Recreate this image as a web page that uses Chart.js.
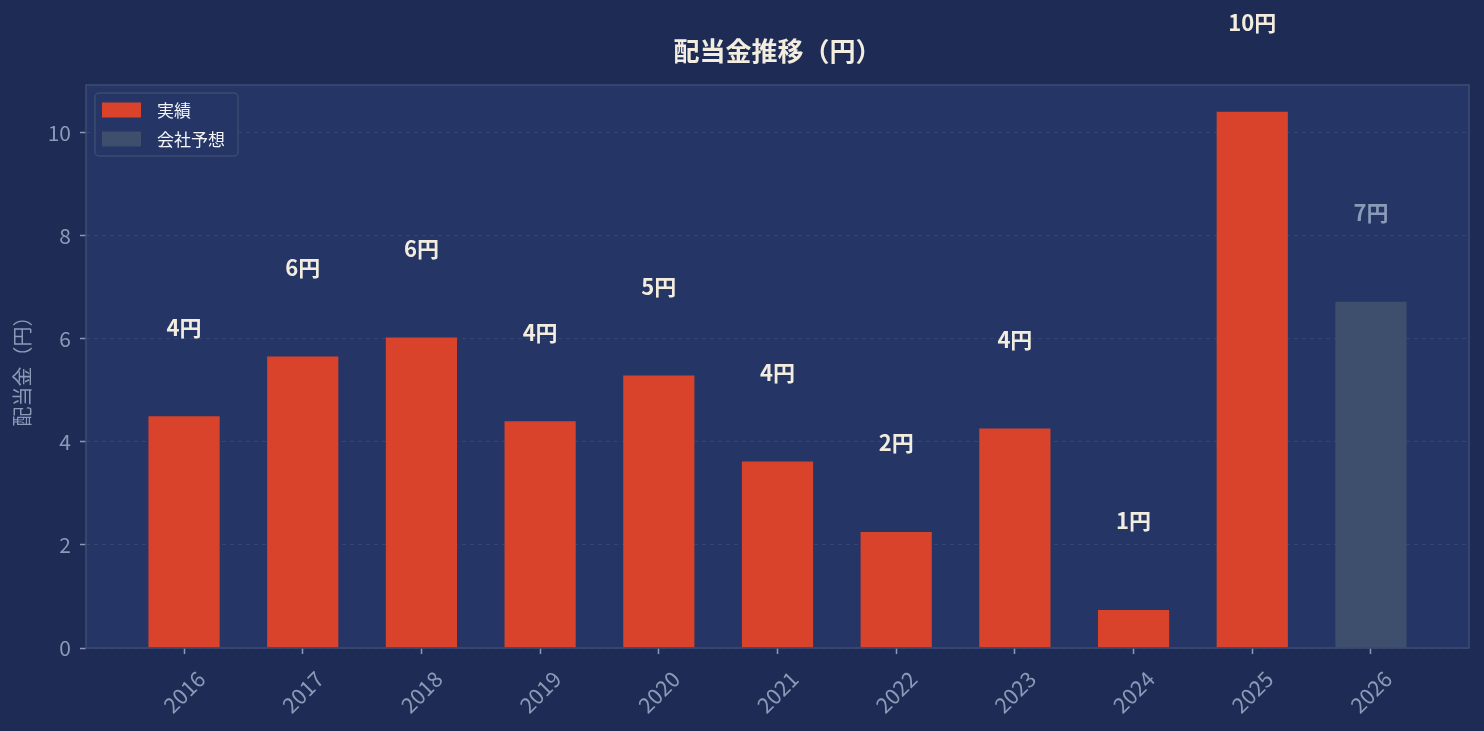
<!DOCTYPE html>
<html><head><meta charset="utf-8">
<script src="https://cdn.jsdelivr.net/npm/chart.js@4/dist/chart.umd.min.js"></script>
<style>html,body{margin:0;padding:0;background:#1e2b54;}#wrap{width:1484px;height:731px;}</style>
</head><body><div id="wrap"><canvas id="c" width="1484" height="731"></canvas></div>
<script>
const years = ['2016','2017','2018','2019','2020','2021','2022','2023','2024','2025','2026'];
const actual = [4.50, 5.66, 6.03, 4.40, 5.29, 3.62, 2.25, 4.26, 0.74, 10.41];
const forecast = [6.72];
const labelActual = ['4円','6円','6円','4円','5円','4円','2円','4円','1円','10円'];
const labelForecast = ['7円'];
const yTicks = [0, 2, 4, 6, 8, 10];

const CJK = '"Noto Sans CJK JP", "Noto Sans", sans-serif';
const FIG_BG = '#1e2b54', PLOT_BG = '#243566', FRAME = '#3b4b72';
const TICK_C = '#8a9bb8', CREAM = '#f3ede0';
const RED = '#d9432b', GREY = '#3d4f6c';

const bgPlugin = {
  id: 'bg',
  beforeDraw(chart) {
    const {ctx, chartArea: a} = chart;
    ctx.save();
    ctx.fillStyle = FIG_BG; ctx.fillRect(0, 0, chart.width, chart.height);
    ctx.fillStyle = PLOT_BG; ctx.fillRect(a.left, a.top, a.right - a.left, a.bottom - a.top);
    ctx.restore();
  },
  afterDatasetsDraw(chart) {
    const {ctx, chartArea: a} = chart;
    ctx.save();
    ctx.strokeStyle = FRAME; ctx.lineWidth = 1.6;
    ctx.strokeRect(a.left, a.top, a.right - a.left, a.bottom - a.top);
    ctx.restore();
  }
};

const labelPlugin = {
  id: 'vlabels',
  afterDraw(chart) {
    const {ctx} = chart;
    const ys = chart.scales.y;
    const sets = [labelActual, labelForecast];
    const cols = [CREAM, TICK_C];
    ctx.save();
    ctx.font = 'bold 22px ' + CJK;
    ctx.textAlign = 'center'; ctx.textBaseline = 'middle';
    chart.data.datasets.forEach((ds, di) => {
      const meta = chart.getDatasetMeta(di);
      meta.data.forEach((el, i) => {
        const v = ds.data[i].y;
        ctx.fillStyle = cols[di];
        ctx.fillText(sets[di][i], el.x, ys.getPixelForValue(v) - 89);
      });
    });
    // legend
    const x0 = 95, y0 = 93, w = 143, h = 63;
    ctx.beginPath();
    ctx.roundRect(x0, y0, w, h, 4);
    ctx.fillStyle = PLOT_BG; ctx.fill();
    ctx.strokeStyle = FRAME; ctx.lineWidth = 1.5; ctx.stroke();
    ctx.font = '17px ' + CJK; ctx.textAlign = 'left';
    chart.data.datasets.forEach((ds, di) => {
      const cy = 110 + di * 29;
      ctx.fillStyle = ds.backgroundColor;
      ctx.fillRect(102, cy - 7.5, 39, 15);
      ctx.fillStyle = '#f5f5f5';
      ctx.fillText(ds.label, 157, cy + 1);
    });
    ctx.restore();
  }
};

new Chart(document.getElementById('c'), {
  type: 'bar',
  data: {
    datasets: [
      { label: '実績', data: actual.map((v, i) => ({x: i, y: v})), backgroundColor: RED },
      { label: '会社予想', data: forecast.map((v, i) => ({x: actual.length + i, y: v})), backgroundColor: GREY }
    ]
  },
  options: {
    responsive: false, animation: false,
    devicePixelRatio: 1,
    grouped: false,
    categoryPercentage: 1.0, barPercentage: 0.6,
    layout: { padding: { left: 0, right: 15, top: 0, bottom: 0 } },
    plugins: {
      legend: { display: false },
      tooltip: { enabled: false },
      title: { display: true, text: '配当金推移（円）', fullSize: false, color: CREAM,
        font: { family: CJK, size: 26, weight: 'bold' }, padding: { top: 35.4, bottom: 18.4 } }
    },
    scales: {
      x: {
        type: 'linear', min: -0.826, max: 10.826, offset: false,
        afterBuildTicks: s => { s.ticks = years.map((_, i) => ({ value: i })); },
        afterFit: s => { s.height = 83; },
        grid: { display: true, offset: false, drawOnChartArea: false, drawTicks: true, tickLength: 6, tickColor: TICK_C, tickWidth: 1.5 },
        border: { display: false },
        ticks: { color: TICK_C, font: { family: CJK, size: 21.5, weight: 400 }, minRotation: 45, maxRotation: 45,
          autoSkip: false, labelOffset: 17, padding: 12,
          callback: v => years[v] }
      },
      y: {
        min: 0, max: 10.93,
        afterBuildTicks: s => { s.ticks = yTicks.map(v => ({ value: v })); },
        afterFit: s => { s.width = 86; },
        grid: { color: 'rgba(138,155,184,0.16)', lineWidth: 1, tickLength: 6, tickColor: TICK_C, tickWidth: 1.5, tickBorderDash: [] },
        border: { display: false, dash: [4, 4] },
        ticks: { color: TICK_C, font: { family: CJK, size: 21, weight: 400 }, padding: 9, callback: v => String(v) },
        title: { display: true, text: '配当金（円）', color: TICK_C, font: { family: CJK, size: 20 }, padding: { top: 10, bottom: 0 } }
      }
    }
  },
  plugins: [bgPlugin, labelPlugin]
});
</script></body></html>
